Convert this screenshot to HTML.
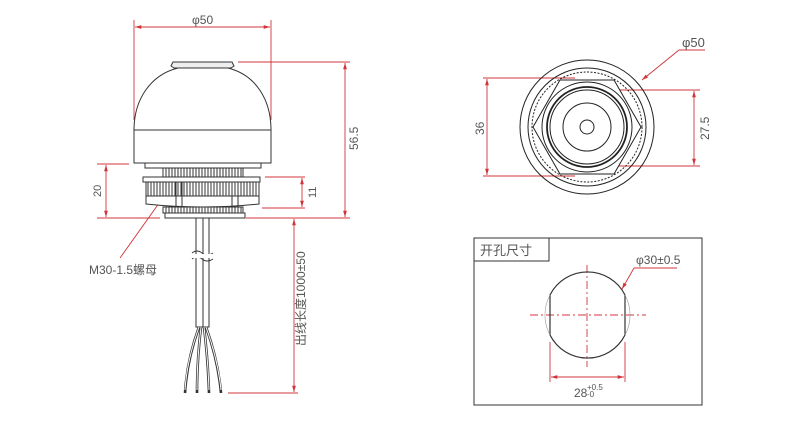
<!DOCTYPE html>
<html><head><meta charset="utf-8"><style>
html,body{margin:0;padding:0;background:#fff;width:800px;height:424px;overflow:hidden}
svg{display:block}
text{font-family:"Liberation Sans","Noto Sans CJK SC",sans-serif;fill:#555}
</style></head><body>
<svg width="800" height="424" viewBox="0 0 800 424" xmlns="http://www.w3.org/2000/svg">
<defs>
<marker id="a" viewBox="0 0 10 10" refX="10" refY="5" markerWidth="7" markerHeight="7" orient="auto-start-reverse"><path d="M0,2 L10,5 L0,8 z" fill="#d0343a"/></marker>
<pattern id="kn" width="3" height="10" patternUnits="userSpaceOnUse"><rect width="3" height="10" fill="#fff"/><line x1="1" y1="0" x2="1" y2="10" stroke="#333" stroke-width="1"/></pattern>
</defs>
<g stroke="#d0343a" stroke-width="0.9" fill="none">
<line x1="134" y1="20" x2="134" y2="120"/><line x1="271" y1="20" x2="271" y2="120"/>
<line x1="135" y1="27" x2="270" y2="27" marker-start="url(#a)" marker-end="url(#a)"/>
<line x1="238" y1="62" x2="350" y2="62"/><line x1="246" y1="218" x2="350" y2="218"/>
<line x1="345" y1="63" x2="345" y2="217" marker-start="url(#a)" marker-end="url(#a)"/>
<line x1="97" y1="164" x2="129" y2="164"/><line x1="97" y1="218" x2="160" y2="218"/>
<line x1="106" y1="165" x2="106" y2="217" marker-start="url(#a)" marker-end="url(#a)"/>
<line x1="265" y1="177" x2="305" y2="177"/><line x1="262" y1="208" x2="305" y2="208"/>
<line x1="302" y1="178" x2="302" y2="207" marker-start="url(#a)" marker-end="url(#a)"/>
<line x1="228" y1="393" x2="298" y2="393"/>
<line x1="294" y1="219" x2="294" y2="392" marker-start="url(#a)" marker-end="url(#a)"/>
<line x1="162" y1="199" x2="120" y2="258"/>
<line x1="483" y1="78" x2="575" y2="78"/><line x1="483" y1="176" x2="575" y2="176"/>
<line x1="487" y1="79" x2="487" y2="175" marker-start="url(#a)" marker-end="url(#a)"/>
<line x1="610" y1="90" x2="700" y2="90"/><line x1="610" y1="166" x2="700" y2="166"/>
<line x1="694" y1="91" x2="694" y2="165" marker-start="url(#a)" marker-end="url(#a)"/>
<polyline points="705,50 679,50"/>
<line x1="679" y1="50" x2="642" y2="80" marker-end="url(#a)"/>
<line x1="530" y1="315" x2="646" y2="315" stroke-dasharray="8,3,2,3"/>
<line x1="587" y1="265" x2="587" y2="367" stroke-dasharray="8,3,2,3"/>
<line x1="550" y1="342" x2="550" y2="382"/><line x1="625" y1="342" x2="625" y2="382"/>
<line x1="551" y1="377" x2="624" y2="377" marker-start="url(#a)" marker-end="url(#a)"/>
<polyline points="677,268 634,268"/>
<line x1="634" y1="268" x2="622" y2="289" marker-end="url(#a)"/>
</g>
<g stroke="#333" stroke-width="1" fill="#fff">
<path d="M134,130 C134,100 150,75 178,68 L228,68 C256,75 271,100 271,130 Z"/>
<path d="M174,68 L171,66 L173,62 L232,62 L234,66 L231,68 Z" fill="#eee"/>
<rect x="134" y="130" width="137" height="33"/>
<rect x="145" y="163" width="116" height="5"/>
<rect x="163" y="168" width="80" height="9" fill="url(#kn)"/>
<rect x="143" y="177" width="117" height="5"/>
<rect x="146" y="182" width="113" height="14" fill="url(#kn)"/>
<path d="M146,196 L259,196 L259,204 Q203,210 146,204 Z"/>
<line x1="176" y1="182" x2="176" y2="207"/><line x1="182" y1="182" x2="182" y2="207"/>
<line x1="232" y1="182" x2="232" y2="207"/><line x1="238" y1="182" x2="238" y2="207"/>
<rect x="163" y="207" width="80" height="6" fill="url(#kn)"/>
<rect x="165" y="213" width="80" height="5"/>
<rect x="196" y="218" width="13" height="109"/>
<line x1="203" y1="218" x2="203" y2="327"/>
</g>
<path d="M192,253 q5,-4 10,0 q5,4 11,0 M192,259 q5,-4 10,0 q5,4 11,0" stroke="#333" fill="none"/>
<rect x="190" y="254" width="25" height="4" fill="#fff"/>
<g stroke="#333" stroke-width="2.6" fill="none">
<path d="M199,327 Q187,360 185,393"/><path d="M201,327 Q197,360 197,393"/><path d="M204,327 Q208,360 209,393"/><path d="M206,327 Q218,360 221,393"/>
</g>
<g stroke="#fff" stroke-width="1" fill="none">
<path d="M199,327 Q187,360 185,390"/><path d="M201,327 Q197,360 197,390"/><path d="M204,327 Q208,360 209,390"/><path d="M206,327 Q218,360 221,390"/>
</g>
<g stroke="#222" stroke-width="1" fill="none">
<circle cx="587" cy="127" r="67"/>
<circle cx="587" cy="127" r="59"/>
<circle cx="587" cy="127" r="55" stroke-dasharray="2,1.5"/>
<polygon points="641,127 614,80 560,80 533,127 560,174 614,174" fill="#fff"/>
<circle cx="587" cy="127" r="45"/>
<circle cx="587" cy="127" r="40" stroke-width="1.8"/>
<circle cx="587" cy="127" r="37"/>
<circle cx="587" cy="127" r="24"/>
<circle cx="587" cy="127" r="7"/>
</g>
<g stroke="#333" stroke-width="1" fill="none">
<rect x="474" y="238" width="228" height="167"/>
<rect x="474" y="238" width="75" height="23"/>
<path d="M550,295 A42,42 0 0 1 625,295 L625,335 A42,42 0 0 1 550,335 Z" stroke-width="1.2"/>
<path d="M550,295 A42,42 0 0 0 550,335 M625,295 A42,42 0 0 1 625,335" stroke="#999" stroke-width="0.6"/>
</g>
<text x="192" y="24" font-size="12">φ50</text>
<text x="0" y="0" font-size="12" transform="translate(358,150) rotate(-90)">56.5</text>
<text x="0" y="0" font-size="11" transform="translate(101,197) rotate(-90)">20</text>
<text x="0" y="0" font-size="11" transform="translate(316,198) rotate(-90)">11</text>
<text x="0" y="0" font-size="12" transform="translate(305,346) rotate(-90)" fill="#333">出线长度1000±50</text>
<text x="89" y="274" font-size="12">M30-1.5螺母</text>
<text x="0" y="0" font-size="12" transform="translate(484,135) rotate(-90)">36</text>
<text x="0" y="0" font-size="12" transform="translate(709,140) rotate(-90)">27.5</text>
<text x="682" y="47" font-size="13" fill="#222">φ50</text>
<text x="480" y="255" font-size="13" fill="#333">开孔尺寸</text>
<text x="636" y="264" font-size="12">φ30±0.5</text>
<text x="574" y="397" font-size="12">28</text>
<text x="587" y="390" font-size="8">+0.5</text>
<text x="587" y="397" font-size="8">-0</text>
</svg>
</body></html>
